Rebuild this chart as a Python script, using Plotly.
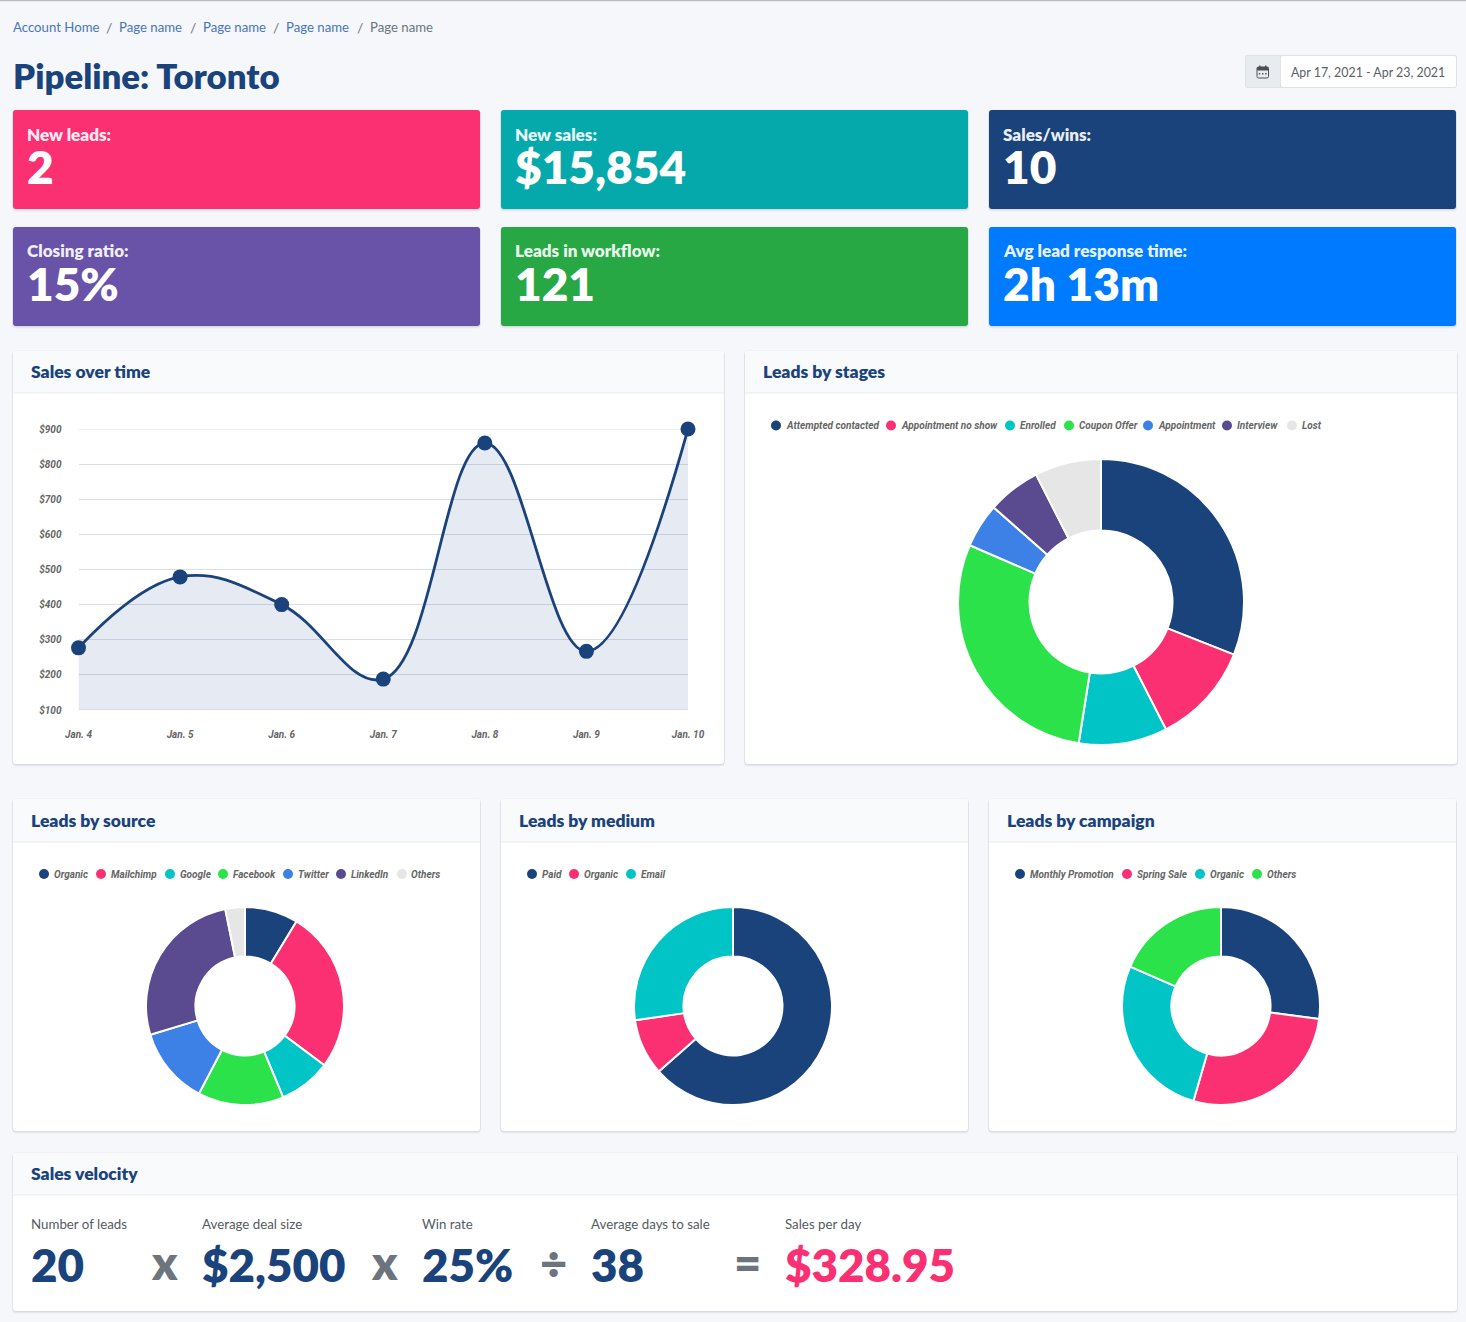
import plotly.graph_objects as go

# Data
days = ['Jan. 4', 'Jan. 5', 'Jan. 6', 'Jan. 7', 'Jan. 8', 'Jan. 9', 'Jan. 10']
sales = [277, 479, 400, 188, 860, 267, 900]
sales_ticks = [100, 200, 300, 400, 500, 600, 700, 800, 900]
sales_tick_labels = ['$100', '$200', '$300', '$400', '$500', '$600', '$700', '$800', '$900']

stage_labels = ['Attempted contacted', 'Appointment no show', 'Enrolled', 'Coupon Offer', 'Appointment', 'Interview', 'Lost']
stage_values = [31, 11.5, 10, 29, 5, 6, 7.5]
source_labels = ['Organic', 'Mailchimp', 'Google', 'Facebook', 'Twitter', 'LinkedIn', 'Others']
source_values = [8.7, 26.5, 8.5, 14, 12.6, 26.5, 3.2]
medium_labels = ['Paid', 'Organic', 'Email']
medium_values = [63.5, 9.2, 27.3]
campaign_labels = ['Monthly Promotion', 'Spring Sale', 'Organic', 'Others']
campaign_values = [27.1, 27.4, 27, 18.5]

kpi_labels = ['New leads:', 'New sales:', 'Sales/wins:', 'Closing ratio:', 'Leads in workflow:', 'Avg lead response time:']
kpi_values = ['2', '$15,854', '10', '15%', '121', '2h 13m']
crumbs = ['Account Home', 'Page name', 'Page name', 'Page name', 'Page name']
velocity_labels = ['Number of leads', 'Average deal size', 'Win rate', 'Average days to sale', 'Sales per day']
velocity_values = ['20', '$2,500', '25%', '38', '$328.95']
velocity_ops = ['x', 'x', '÷', '=']

# Colours
NAVY = '#1a437c'
PINK = '#fb3073'
SLICE_COLORS = [NAVY, PINK, '#00c4c6', '#2be24a', '#3d80e6', '#5a4a8f', '#e6e6e6']
KPI_COLORS = [PINK, '#05a9ab', NAVY, '#6853a8', '#28a745', '#007bff']
TEXT_FONT = 'Lato'
CHART_FONT = 'Roboto'

W, H = 1466, 1322
def fx(x): return x / W
def fy(y): return 1 - y / H

shapes = []
annotations = []

# Drawing helpers: {{{
def box(x0, y0, x1, y1, fill, line=None, r=3, layer='below'):
    a, b, c, d = fx(x0), fy(y0), fx(x1), fy(y1)
    rx, ry = r / W, r / H
    path = (f'M {a+rx} {b} L {c-rx} {b} Q {c} {b} {c} {b-ry} L {c} {d+ry} Q {c} {d} {c-rx} {d} '
            f'L {a+rx} {d} Q {a} {d} {a} {d+ry} L {a} {b-ry} Q {a} {b} {a+rx} {b} Z')
    shapes.append(dict(type='path', path=path, xref='paper', yref='paper', fillcolor=fill,
                       line=dict(color=line or 'rgba(0,0,0,0)', width=1 if line else 0), layer=layer))

def text(x, y, s, size, color, weight=400, anchor='left', family=TEXT_FONT, style='normal'):
    annotations.append(dict(x=fx(x), y=fy(y), xref='paper', yref='paper', text=s, showarrow=False,
                            xanchor=anchor, yanchor='middle', borderpad=0,
                            font=dict(family=family, size=size, color=color, weight=weight, style=style)))

def hline(x0, x1, y, color):
    shapes.append(dict(type='line', x0=fx(x0), x1=fx(x1), y0=fy(y), y1=fy(y), xref='paper', yref='paper',
                       line=dict(color=color, width=1), layer='below'))

def shadow(x0, y0, x1, y1):
    # soft edge, a little stronger under the card
    box(x0 - 1, y0 - 0.5, x1 + 1, y1 + 2.5, 'rgba(30,50,80,0.05)', r=4)
    box(x0 - 0.5, y0, x1 + 0.5, y1 + 1.2, 'rgba(30,50,80,0.09)', r=4)

def panel(x0, y0, x1, y1, header_bottom, title, title_y):
    shadow(x0, y0, x1, y1)
    box(x0, y0, x1, y1, 'white')
    box(x0, y0, x1, header_bottom, '#f9fafc', r=2)
    hline(x0, x1, header_bottom, '#e8ebf0')
    text(x0 + 16.5, title_y, title, 17.5, NAVY, 800)

def legend(y, labels, dots, texts):
    for label, color, dot, tx in zip(labels, SLICE_COLORS, dots, texts):
        shapes.append(dict(type='circle', xref='paper', yref='paper', x0=fx(dot - 5), x1=fx(dot + 5),
                           y0=fy(y + 5), y1=fy(y - 5), fillcolor=color, line=dict(width=0), layer='below'))
        text(tx - 1.5, y, label, 10, '#666666', 700, family=CHART_FONT, style='italic')

def donut(fig, labels, values, cx, cy, radius):
    fig.add_pie(labels=labels, values=values, sort=False, direction='clockwise', rotation=0, hole=0.5,
                marker=dict(colors=SLICE_COLORS[:len(values)], line=dict(color='white', width=2)),
                textinfo='none', showlegend=False,
                domain=dict(x=[fx(cx - radius), fx(cx + radius)], y=[fy(cy + radius), fy(cy - radius)]))
#}}}

# Page header: {{{
shapes.append(dict(type='line', x0=0, x1=1, y0=fy(0.5), y1=fy(0.5), xref='paper', yref='paper',
                   line=dict(color='#b9bcc0', width=1.5), layer='below'))
crumb_x = [12, 117.5, 201.5, 285, 368.5]
sep_x = [108.5, 192.5, 276, 360]
for i, (c, x) in enumerate(zip(crumbs, crumb_x)):
    text(x, 27.5, c, 13.2, '#6c757d' if i == 4 else '#4a76b8')
for x in sep_x:
    text(x, 27.5, '/', 14, '#6c757d', anchor='center')
text(11.5, 75, 'Pipeline: Toronto', 34.8, NAVY, 800)

box(1245, 55, 1457, 88, '#dfe2e7', r=3)
box(1246, 56, 1280, 87, '#e9ecef', r=2)
box(1281, 56, 1456, 87, 'white', r=2)
text(1289.5, 72.5, 'Apr 17, 2021 - Apr 23, 2021', 12.4, '#5a6068')
# calendar icon
box(1257, 67, 1268.5, 78, 'rgba(0,0,0,0)', line='#495057', r=1.5)
box(1257, 67, 1268.5, 70.5, '#495057', r=1)
for tx in (1259.8, 1265.7):
    shapes.append(dict(type='rect', xref='paper', yref='paper', x0=fx(tx - 0.7), x1=fx(tx + 0.7), y0=fy(68),
                       y1=fy(65.5), fillcolor='#495057', line=dict(width=0), layer='below'))
for gx in (1259.5, 1262.7, 1265.9):
    shapes.append(dict(type='rect', xref='paper', yref='paper', x0=fx(gx - 0.7), x1=fx(gx + 0.7), y0=fy(74.5),
                       y1=fy(73), fillcolor='#495057', line=dict(width=0), layer='below'))
#}}}

# KPI cards: {{{
kpi_x = [13, 501, 989]
kpi_y = [110, 227]
for i, (label, value, color) in enumerate(zip(kpi_labels, kpi_values, KPI_COLORS)):
    x0, y0 = kpi_x[i % 3], kpi_y[i // 3]
    shadow(x0, y0, x0 + 467, y0 + 99)
    box(x0, y0, x0 + 467, y0 + 99, color)
    text(x0 + 13, y0 + 24, label, 17.1, 'rgba(255,255,255,0.92)', 800)
    text(x0 + 13, y0 + 56, value, 46, 'white', 800)
#}}}

# Panels: {{{
panel(13, 351, 724, 764, 393, 'Sales over time', 371.5)
panel(745, 351, 1457, 764, 393, 'Leads by stages', 371.5)
panel(13, 799, 480, 1131, 842, 'Leads by source', 820.5)
panel(501, 799, 968, 1131, 842, 'Leads by medium', 820.5)
panel(989, 799, 1456, 1131, 842, 'Leads by campaign', 820.5)
panel(13, 1153, 1457, 1311, 1195, 'Sales velocity', 1173.5)

# The first and last gridlines sit on the plot edges, where the axis leaves them out
for tick in (sales_ticks[0], sales_ticks[-1]):
    shapes.append(dict(type='line', xref='x', yref='y', x0=0, x1=len(days) - 1, y0=tick, y1=tick,
                       line=dict(color='#d9dee6', width=1), layer='below'))
#}}}

fig = go.Figure()

# Sales over time: {{{
fig.add_scatter(x=list(range(len(days))), y=sales, mode='lines+markers', fill='tozeroy',
                fillcolor='rgba(30,70,150,0.11)', cliponaxis=False, showlegend=False,
                line=dict(color=NAVY, width=2.8, shape='spline', smoothing=1.15),
                marker=dict(size=15, color=NAVY))
#}}}

# Donuts: {{{
donut(fig, stage_labels, stage_values, 1101, 602, 143)
donut(fig, source_labels, source_values, 245, 1006, 99)
donut(fig, medium_labels, medium_values, 733, 1006, 99)
donut(fig, campaign_labels, campaign_values, 1221, 1006, 99)

legend(425.5, stage_labels, [776, 891, 1010, 1069, 1148, 1227, 1292], [786, 901, 1020, 1079, 1158, 1237, 1302])
legend(874, source_labels, [44, 101, 170, 223, 288, 341, 402], [54, 111, 180, 233, 298, 351, 412])
legend(874, medium_labels, [532, 574, 631], [542, 584, 641])
legend(874, campaign_labels, [1020, 1127, 1200, 1257], [1030, 1137, 1210, 1267])
#}}}

# Sales velocity: {{{
velocity_x = [29.5, 201, 420.5, 590, 784]
op_x = [164.5, 384, 553.5, 747]
for i, (label, value, x) in enumerate(zip(velocity_labels, velocity_values, velocity_x)):
    text(x, 1223.5, label, 13.3, '#555b62')
    text(x, 1264, value, 45.7, PINK if i == 4 else NAVY, 800)
for op, x in zip(velocity_ops, op_x):
    text(x, 1262, op, 47, '#6c757d', 800, anchor='center')
#}}}

tick_font = dict(family=CHART_FONT, size=10, color='#666666', weight=700, style='italic')
fig.update_layout(
    width=W, height=H, margin=dict(l=0, r=0, t=0, b=0, autoexpand=False),
    paper_bgcolor='#f5f7fb', plot_bgcolor='rgba(0,0,0,0)',
    shapes=shapes, annotations=annotations, showlegend=False,
    xaxis=dict(domain=[fx(78.5), fx(688)], range=[0, 6], tickmode='array', tickvals=list(range(len(days))),
               ticktext=days, showgrid=False, zeroline=False, showline=False, ticks='outside', ticklen=15,
               tickcolor='rgba(0,0,0,0)', tickfont=tick_font),
    yaxis=dict(domain=[fy(710), fy(429)], range=[100, 900], tickmode='array', tickvals=sales_ticks,
               ticktext=sales_tick_labels, showgrid=True, gridcolor='#d9dee6', gridwidth=1, zeroline=False,
               showline=False, ticks='outside', ticklen=14, tickcolor='rgba(0,0,0,0)', tickfont=tick_font),
)

fig.write_html('out.html', config={'displayModeBar': False},
               post_script="document.body.style.margin='0';document.body.style.overflow='hidden';")
